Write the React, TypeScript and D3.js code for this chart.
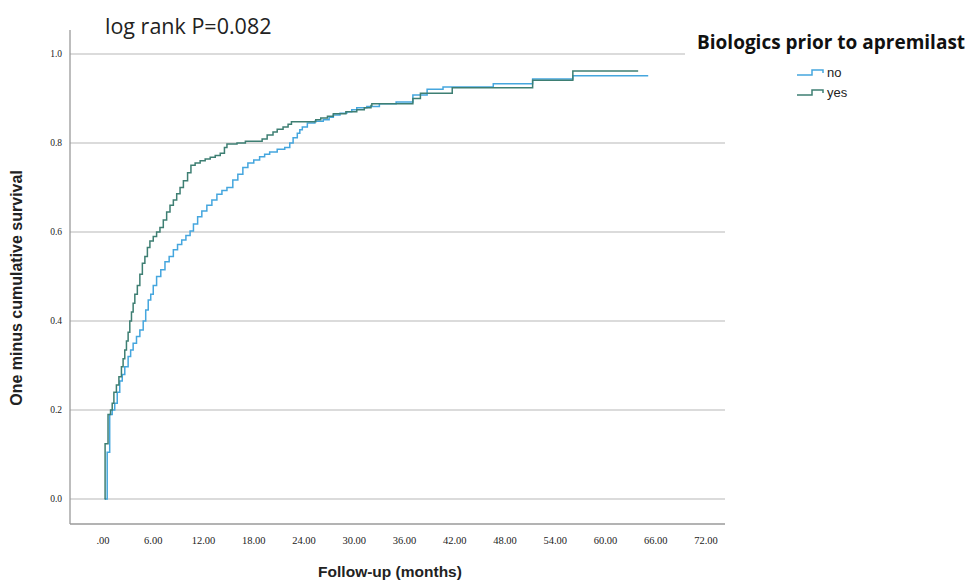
import * as d3 from 'd3'

// cumulative event curve (one minus survival), [months, value] at each step
const noSeries: [number, number][] = [
  [0.2, 0], [0.5, 0.105], [0.8, 0.19], [1.1, 0.2], [1.4, 0.215], [1.7, 0.24], [2.0, 0.265],
  [2.3, 0.28], [2.6, 0.297], [3.0, 0.32], [3.3, 0.335], [3.6, 0.35], [4.0, 0.365], [4.4, 0.38],
  [4.8, 0.4], [5.1, 0.425], [5.4, 0.447], [5.7, 0.46], [6.0, 0.48], [6.4, 0.5], [6.9, 0.515],
  [7.4, 0.533], [7.9, 0.545], [8.4, 0.56], [8.9, 0.572], [9.4, 0.582], [9.9, 0.592], [10.4, 0.602],
  [10.8, 0.618], [11.3, 0.634], [11.8, 0.647], [12.4, 0.66], [13.0, 0.672], [13.6, 0.685],
  [14.2, 0.693], [14.8, 0.7], [15.5, 0.717], [16.1, 0.73], [16.7, 0.745], [17.3, 0.755],
  [18.0, 0.762], [18.7, 0.769], [19.3, 0.775], [19.9, 0.78], [20.8, 0.786], [21.7, 0.79],
  [22.3, 0.8], [22.7, 0.812], [23.2, 0.822], [23.5, 0.83], [23.8, 0.836], [24.4, 0.845],
  [25.3, 0.849], [26.3, 0.852], [27.0, 0.858], [27.5, 0.863], [28.3, 0.867], [29.1, 0.87],
  [29.7, 0.875], [30.3, 0.879], [31.5, 0.882], [33.0, 0.888], [35.0, 0.892], [37.0, 0.908],
  [38.7, 0.921], [40.6, 0.926], [46.6, 0.933], [51.3, 0.944], [56.1, 0.951], [65.1, 0.951],
]

const yesSeries: [number, number][] = [
  [0.2, 0], [0.25, 0.124], [0.6, 0.19], [0.9, 0.2], [1.1, 0.215], [1.3, 0.24], [1.6, 0.256],
  [1.9, 0.275], [2.2, 0.297], [2.4, 0.315], [2.6, 0.335], [2.8, 0.355], [3.0, 0.375], [3.2, 0.4],
  [3.4, 0.42], [3.6, 0.44], [3.8, 0.46], [4.1, 0.48], [4.4, 0.505], [4.7, 0.53], [5.0, 0.545],
  [5.3, 0.565], [5.6, 0.58], [6.0, 0.59], [6.4, 0.6], [6.8, 0.61], [7.2, 0.627], [7.6, 0.645],
  [8.0, 0.66], [8.4, 0.672], [8.8, 0.686], [9.2, 0.7], [9.6, 0.715], [10.1, 0.733], [10.5, 0.75],
  [11.0, 0.755], [11.6, 0.76], [12.2, 0.764], [12.8, 0.768], [13.4, 0.772], [14.0, 0.777],
  [14.5, 0.79], [14.8, 0.798], [16.0, 0.8], [17.0, 0.804], [19.0, 0.809], [19.6, 0.818],
  [20.3, 0.825], [20.8, 0.831], [21.5, 0.836], [22.1, 0.842], [22.5, 0.848], [25.4, 0.852],
  [26.0, 0.856], [26.8, 0.86], [27.5, 0.866], [29.0, 0.87], [30.3, 0.875], [31.2, 0.879],
  [32.0, 0.884], [32.1, 0.888], [37.0, 0.9], [37.9, 0.912], [41.7, 0.924], [51.3, 0.941],
  [56.1, 0.962], [63.9, 0.962],
]

const xTicks = [0, 6, 12, 18, 24, 30, 36, 42, 48, 54, 60, 66, 72]
const yTicks = [0, 0.2, 0.4, 0.6, 0.8, 1.0]
const groups = ['no', 'yes']
const groupColors = ['#45a6de', '#3e7f73']

const fmtX = (d: number) => (d === 0 ? '.00' : d.toFixed(2))

export default function App() {
  const x = d3.scaleLinear().domain([0, 72]).range([103, 706])
  const y = d3.scaleLinear().domain([0, 1]).range([499, 54])
  const line = d3.line<[number, number]>()
    .x(d => x(d[0]))
    .y(d => y(d[1]))
    .curve(d3.curveStepAfter)

  const left = 70
  const right = 725
  const bottom = 524

  return (
    <svg width={969} height={582} style={{ position: 'absolute', left: 0, top: 0, background: '#fff' }}>
      <rect width={969} height={582} fill="#fff" />
      {yTicks.map(t => (
        <g key={t}>
          <line x1={left} x2={right} y1={y(t)} y2={y(t)} stroke="#cfcfcf" strokeWidth={1.6} />
          <text x={62} y={y(t) + 3} textAnchor="end" fontFamily="'Liberation Serif', serif" fontSize={9.5} fill="#222">
            {t.toFixed(1)}
          </text>
        </g>
      ))}
      <line x1={left} x2={left} y1={30} y2={bottom} stroke="#9a9a9a" strokeWidth={1.3} />
      <line x1={left} x2={right} y1={bottom} y2={bottom} stroke="#9a9a9a" strokeWidth={1.3} />
      {xTicks.map(t => (
        <text key={t} x={x(t)} y={544} textAnchor="middle" fontFamily="'Liberation Serif', serif" fontSize={10.5} fill="#222">
          {fmtX(t)}
        </text>
      ))}

      <path d={line(noSeries) ?? ''} fill="none" stroke={groupColors[0]} strokeWidth={1.5} />
      <path d={line(yesSeries) ?? ''} fill="none" stroke={groupColors[1]} strokeWidth={1.5} />

      <text x={105} y={34} fontFamily="'Open Sans', sans-serif" fontSize={21.5} fill="#222">log rank P=0.082</text>

      <text
        transform={`translate(22,288) rotate(-90)`}
        textAnchor="middle"
        fontFamily="'Liberation Sans', Arial, sans-serif"
        fontWeight="bold"
        fontSize={16}
        fill="#222"
      >
        One minus cumulative survival
      </text>
      <text x={390} y={577} textAnchor="middle" fontFamily="'Liberation Sans', Arial, sans-serif" fontWeight="bold" fontSize={15.5} fill="#222">
        Follow-up (months)
      </text>

      <rect x={685} y={28} width={284} height={32} fill="#fff" />
      <text x={697} y={49} fontFamily="'Open Sans', sans-serif" fontWeight="bold" fontSize={19} fill="#111">
        Biologics prior to apremilast
      </text>
      {groups.map((g, i) => {
        const base = 75 + i * 20
        return (
          <g key={g}>
            <path
              d={`M797,${base}H812V${base - 5}H823V${base - 2}`}
              fill="none"
              stroke={groupColors[i]}
              strokeWidth={1.5}
            />
            <text x={827} y={base + 2} fontFamily="'Liberation Sans Narrow', 'Liberation Sans', sans-serif" fontSize={13} fill="#222">
              {g}
            </text>
          </g>
        )
      })}
    </svg>
  )
}
